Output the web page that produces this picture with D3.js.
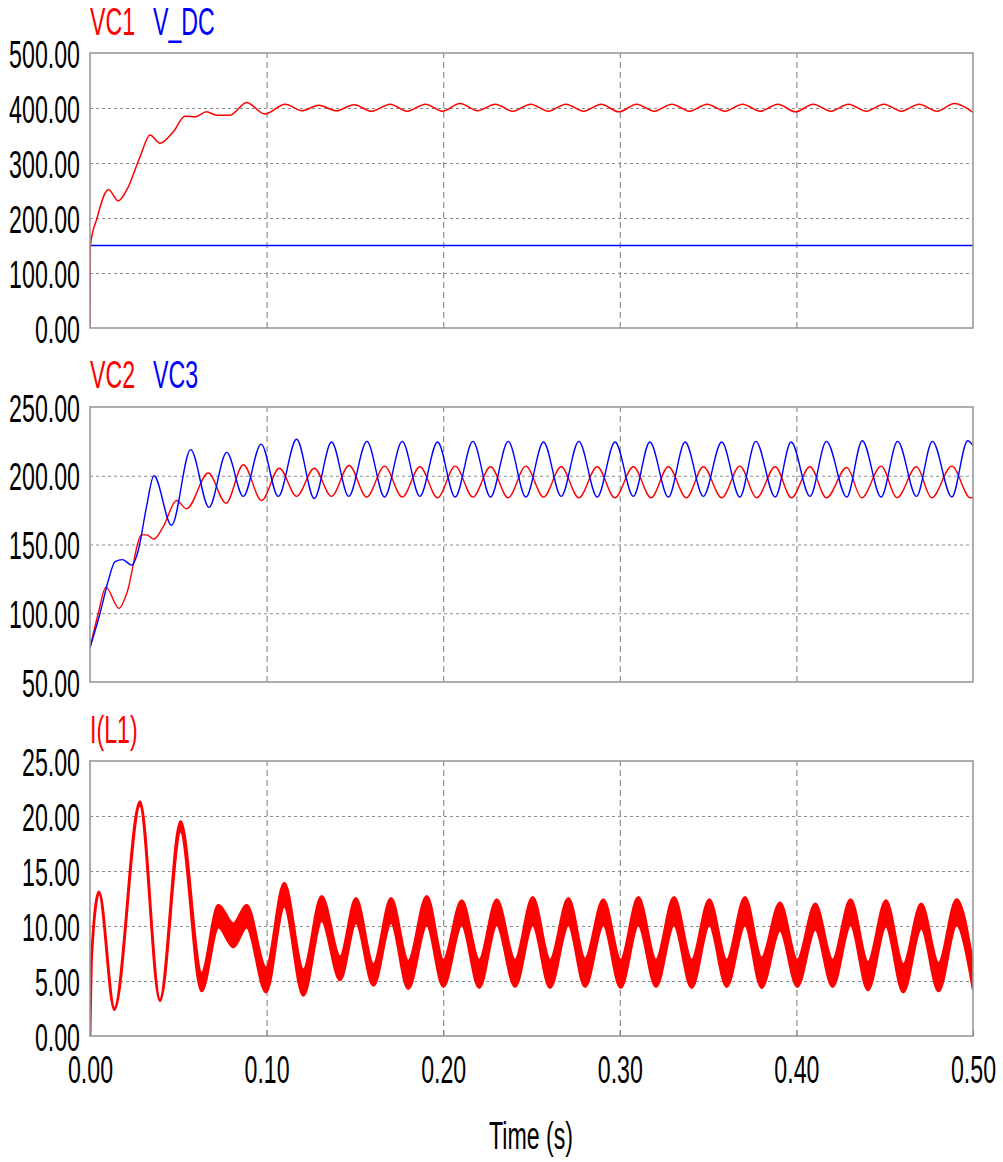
<!DOCTYPE html>
<html>
<head>
<meta charset="utf-8">
<script src="https://cdn.jsdelivr.net/npm/d3@7"></script>
<style>
  html, body { margin: 0; padding: 0; background: #fff; }
  svg { display: block; }
  text { font-family: "Liberation Sans", Arial, sans-serif; }
</style>
</head>
<body>
<svg id="chart" width="1003" height="1162"></svg>
<script>
// ---- time axis ----
const timeDomain = [0, 0.5];
const timeTicks = [0, 0.1, 0.2, 0.3, 0.4, 0.5];
const timeLabel = "Time (s)";

// ---- panel 1: VC1 and V_DC ----
const panel1Domain = [0, 500];
const panel1Ticks = [0, 100, 200, 300, 400, 500];
const vc1 = [
  [0, 0], [0.0002, 150], [0.004, 200], [0.0085, 245], [0.0104, 252], [0.016, 231], [0.0208, 251],
  [0.0283, 311], [0.034, 351], [0.0396, 336], [0.0472, 357], [0.0538, 385], [0.0595, 384],
  [0.066, 393], [0.0717, 387], [0.0793, 387], [0.0887, 410], [0.099, 389], [0.1105, 407],
  [0.1200, 395], [0.1295, 405], [0.1395, 395], [0.1495, 406], [0.1595, 394], [0.1700, 407],
  [0.1795, 394], [0.1900, 407], [0.1995, 394], [0.2095, 408], [0.2195, 395], [0.2295, 407],
  [0.2395, 394], [0.2495, 407], [0.2595, 394], [0.2695, 407], [0.2795, 394], [0.2895, 407],
  [0.2995, 393], [0.3095, 407], [0.3195, 394], [0.3295, 407], [0.3395, 394], [0.3495, 407],
  [0.3595, 394], [0.3695, 407], [0.3795, 394], [0.3895, 407], [0.3995, 393], [0.4095, 407],
  [0.4195, 394], [0.4295, 407], [0.4395, 394], [0.4495, 407], [0.4595, 394], [0.4695, 407],
  [0.4795, 394], [0.4895, 408], [0.5, 392]
];
const vDC = [[0, 150], [0.5, 150]];

// ---- panel 2: VC2 and VC3 ----
const panel2Domain = [50, 250];
const panel2Ticks = [50, 100, 150, 200, 250];
const vc2 = [
  [0, 75], [0.0047, 100], [0.009, 119], [0.0164, 103.5], [0.0208, 114.5], [0.0293, 157], [0.032, 157],
  [0.0362, 154], [0.0415, 163], [0.049, 182], [0.0547, 176], [0.067, 202], [0.077, 180],
  [0.0868, 208], [0.0972, 182], [0.1072, 205.5], [0.117, 185], [0.127, 205.5], [0.1367, 185],
  [0.1467, 207.5], [0.1567, 184.5], [0.1668, 207], [0.1768, 184.5], [0.1868, 206.5], [0.1968, 184],
  [0.2068, 207], [0.2168, 184.5], [0.2268, 206.5], [0.2368, 184], [0.2468, 207], [0.2568, 184.5],
  [0.2668, 206.5], [0.2768, 184], [0.2872, 206.5], [0.2972, 184], [0.3077, 206.5], [0.3177, 184],
  [0.3275, 206.5], [0.3377, 184], [0.3473, 206.5], [0.3577, 184], [0.368, 207], [0.3775, 184],
  [0.388, 206.5], [0.3972, 184], [0.4077, 206.5], [0.417, 184], [0.4285, 206], [0.437, 184],
  [0.448, 207], [0.457, 184], [0.468, 206.5], [0.4766, 184], [0.488, 207], [0.4985, 184], [0.5, 184.2]
];
const vc3 = [
  [0, 75], [0.0057, 100], [0.0104, 124], [0.0142, 137.5], [0.0185, 139], [0.0236, 135], [0.0274, 146],
  [0.032, 177.5], [0.0362, 200], [0.0462, 164], [0.057, 219], [0.0674, 177], [0.0774, 217],
  [0.0868, 185], [0.0969, 223], [0.1066, 185], [0.117, 226.5], [0.127, 183.5], [0.1368, 224.5],
  [0.1465, 185], [0.1568, 225], [0.1668, 184.5], [0.1768, 225], [0.1868, 185], [0.1968, 224.5],
  [0.2068, 184.5], [0.2168, 225], [0.2268, 184.5], [0.2368, 225], [0.2468, 184.5], [0.2568, 224.5],
  [0.2668, 185], [0.2768, 225], [0.2872, 184.5], [0.2973, 224.5], [0.3077, 185], [0.317, 224.5],
  [0.3275, 184.5], [0.337, 224.5], [0.3473, 185], [0.3577, 224.5], [0.368, 184.5], [0.377, 225],
  [0.388, 184.5], [0.397, 224.5], [0.4077, 185], [0.417, 225], [0.4285, 184.5], [0.4373, 225.5],
  [0.448, 184.5], [0.4573, 225], [0.468, 185], [0.477, 225], [0.488, 184.5], [0.497, 225.5], [0.5, 222]
];

// ---- panel 3: inductor current, upper and lower edges of the switching-ripple band ----
const panel3Domain = [0, 25];
const panel3Ticks = [0, 5, 10, 15, 20, 25];
const iL1Upper = [
  [0, 0], [0.001, 7.5], [0.0051, 13.1], [0.0138, 2.5], [0.0283, 21.3], [0.0396, 3.3], [0.0513, 19.5],
  [0.0632, 5.7], [0.0727, 11.9], [0.0812, 10.2], [0.0887, 11.9], [0.0997, 6.2], [0.110, 13.9],
  [0.1208, 6.0], [0.1312, 12.7], [0.1416, 7.2], [0.1506, 12.5], [0.1605, 6.5], [0.1705, 12.5],
  [0.1802, 6.8], [0.1907, 12.7], [0.2001, 6.9], [0.2105, 12.3], [0.2204, 6.9], [0.2303, 12.4],
  [0.2407, 6.9], [0.2507, 12.6], [0.2605, 6.9], [0.2709, 12.5], [0.2803, 7.0], [0.2907, 12.4],
  [0.3005, 6.9], [0.3105, 12.6], [0.3205, 6.9], [0.3307, 12.6], [0.3407, 6.9], [0.3507, 12.4],
  [0.3605, 6.9], [0.3709, 12.6], [0.3803, 7.1], [0.3907, 12.1], [0.4005, 6.9], [0.4107, 12.0],
  [0.4205, 6.9], [0.4307, 12.4], [0.4405, 6.7], [0.4507, 12.3], [0.4605, 6.5], [0.4707, 12.0],
  [0.4805, 6.6], [0.4907, 12.4], [0.5, 6.5]
];
const iL1Lower = [
  [0, 0], [0.001, 7.5], [0.0051, 13.0], [0.0138, 2.4], [0.0283, 21.0], [0.0396, 3.2], [0.0513, 18.6],
  [0.0632, 4.1], [0.0727, 9.9], [0.0812, 8.1], [0.0887, 9.9], [0.0997, 4.0], [0.110, 11.8],
  [0.1208, 3.7], [0.1312, 10.5], [0.1416, 5.1], [0.1506, 10.3], [0.1605, 4.6], [0.1705, 10.3],
  [0.1802, 4.3], [0.1907, 10.1], [0.2001, 4.5], [0.2105, 10.1], [0.2204, 4.4], [0.2303, 10.1],
  [0.2407, 4.5], [0.2507, 10.1], [0.2605, 4.4], [0.2709, 10.1], [0.2803, 4.5], [0.2907, 10.1],
  [0.3005, 4.4], [0.3105, 10.1], [0.3205, 4.5], [0.3307, 10.1], [0.3407, 4.4], [0.3507, 10.1],
  [0.3605, 4.5], [0.3709, 10.1], [0.3803, 4.4], [0.3907, 9.6], [0.4005, 4.5], [0.4107, 9.7],
  [0.4205, 4.5], [0.4307, 10.1], [0.4405, 4.2], [0.4507, 10.0], [0.4605, 4.0], [0.4707, 9.8],
  [0.4805, 4.1], [0.4907, 10.1], [0.5, 4.3]
];

// ---- drawing ----
const RED = "#ff0000", BLUE = "#0000ff";
const FONT_SIZE = 38, SQUEEZE = 0.61;   // narrow, tall lettering
const fmt2 = d3.format(".2f");

const svg = d3.select("#chart");
svg.append("rect").attr("width", 1003).attr("height", 1162).attr("fill", "#fff");

const plotLeft = 90, plotRight = 973;
const x = d3.scaleLinear().domain(timeDomain).range([plotLeft, plotRight]);
const innerTimeTicks = timeTicks.slice(1, -1);

function squeezeText(sel) {
  sel.attr("font-size", FONT_SIZE).attr("transform", `scale(${SQUEEZE},1)`);
}

function drawPanel(id, top, bottom, domain, ticks, drawSeries, legend) {
  const y = d3.scaleLinear().domain(domain).range([bottom, top]);
  const g = svg.append("g").attr("class", "panel-" + id);

  g.append("clipPath").attr("id", "clip-" + id)
    .append("rect").attr("x", plotLeft).attr("y", top)
    .attr("width", plotRight - plotLeft).attr("height", bottom - top);

  // horizontal grid
  const hg = g.append("g").attr("transform", `translate(${plotLeft},0)`)
    .call(d3.axisLeft(y).tickValues(ticks.slice(1, -1)).tickSize(-(plotRight - plotLeft)).tickFormat(""));
  hg.select(".domain").remove();
  hg.selectAll("line").attr("stroke", "#8c8c8c").attr("stroke-width", 1.2).attr("stroke-dasharray", "3,3");

  // vertical grid
  const vg = g.append("g").attr("transform", `translate(0,${bottom})`)
    .call(d3.axisBottom(x).tickValues(innerTimeTicks).tickSize(-(bottom - top)).tickFormat(""));
  vg.select(".domain").remove();
  vg.selectAll("line").attr("stroke", "#8c8c8c").attr("stroke-width", 1.2).attr("stroke-dasharray", "6,4");

  // series
  const sg = g.append("g").attr("clip-path", `url(#clip-${id})`);
  drawSeries(sg, y);

  // frame
  g.append("rect").attr("x", plotLeft).attr("y", top)
    .attr("width", plotRight - plotLeft).attr("height", bottom - top)
    .attr("fill", "none").attr("stroke", "#9a9a9a").attr("stroke-width", 1.6);

  // y tick labels
  const ya = g.append("g").attr("transform", `translate(${plotLeft},0)`)
    .call(d3.axisLeft(y).tickValues(ticks).tickSize(0).tickFormat(fmt2));
  ya.select(".domain").remove();
  ya.selectAll("text")
    .attr("x", -10 / SQUEEZE).attr("dy", "0.37em")
    .attr("fill", "#000").attr("font-family", '"Liberation Sans", Arial, sans-serif')
    .call(squeezeText);

  // legend
  legend.items.forEach(item => {
    g.append("text")
      .attr("transform", `translate(${item.x},${legend.y}) scale(${SQUEEZE},1)`)
      .attr("font-size", FONT_SIZE).attr("fill", item.color)
      .text(item.name);
  });
  return y;
}

const line = y => d3.line().x(d => x(d[0])).y(d => y(d[1])).curve(d3.curveMonotoneX);

drawPanel(1, 53, 328, panel1Domain, panel1Ticks, (sg, y) => {
  sg.append("path").datum(vDC).attr("d", line(y)).attr("fill", "none")
    .attr("stroke", BLUE).attr("stroke-width", 1.5);
  sg.append("path").datum(vc1).attr("d", line(y)).attr("fill", "none")
    .attr("stroke", RED).attr("stroke-width", 1.5);
}, { y: 35, items: [{ name: "VC1", color: RED, x: 90 }, { name: "V_DC", color: BLUE, x: 153 }] });

drawPanel(2, 407, 682, panel2Domain, panel2Ticks, (sg, y) => {
  sg.append("path").datum(vc2).attr("d", line(y)).attr("fill", "none")
    .attr("stroke", RED).attr("stroke-width", 1.4);
  sg.append("path").datum(vc3).attr("d", line(y)).attr("fill", "none")
    .attr("stroke", BLUE).attr("stroke-width", 1.4);
}, { y: 388, items: [{ name: "VC2", color: RED, x: 90 }, { name: "VC3", color: BLUE, x: 153 }] });

drawPanel(3, 761, 1036, panel3Domain, panel3Ticks, (sg, y) => {
  const band = d3.area()
    .x(d => x(d[0]))
    .y0((d, i) => y(iL1Lower[i][1]))
    .y1(d => y(d[1]))
    .curve(d3.curveMonotoneX);
  sg.append("path").datum(iL1Upper).attr("d", band)
    .attr("fill", RED).attr("stroke", RED).attr("stroke-width", 2.8).attr("stroke-linejoin", "round");
}, { y: 743, items: [{ name: "I(L1)", color: RED, x: 90 }] });

// time axis under the last panel
const xa = svg.append("g").attr("transform", "translate(0,1036)")
  .call(d3.axisBottom(x).tickValues(timeTicks).tickSizeInner(-6).tickSizeOuter(0).tickFormat(fmt2));
xa.select(".domain").remove();
xa.selectAll("line").attr("stroke", "#8c8c8c").attr("stroke-width", 1.2);
xa.selectAll("text")
  .attr("y", 47).attr("dy", 0).attr("fill", "#000")
  .attr("font-family", '"Liberation Sans", Arial, sans-serif')
  .call(squeezeText);

svg.append("text")
  .attr("transform", `translate(531,1149) scale(${SQUEEZE},1)`)
  .attr("text-anchor", "middle").attr("font-size", FONT_SIZE).attr("fill", "#000")
  .text(timeLabel);
</script>
</body>
</html>
